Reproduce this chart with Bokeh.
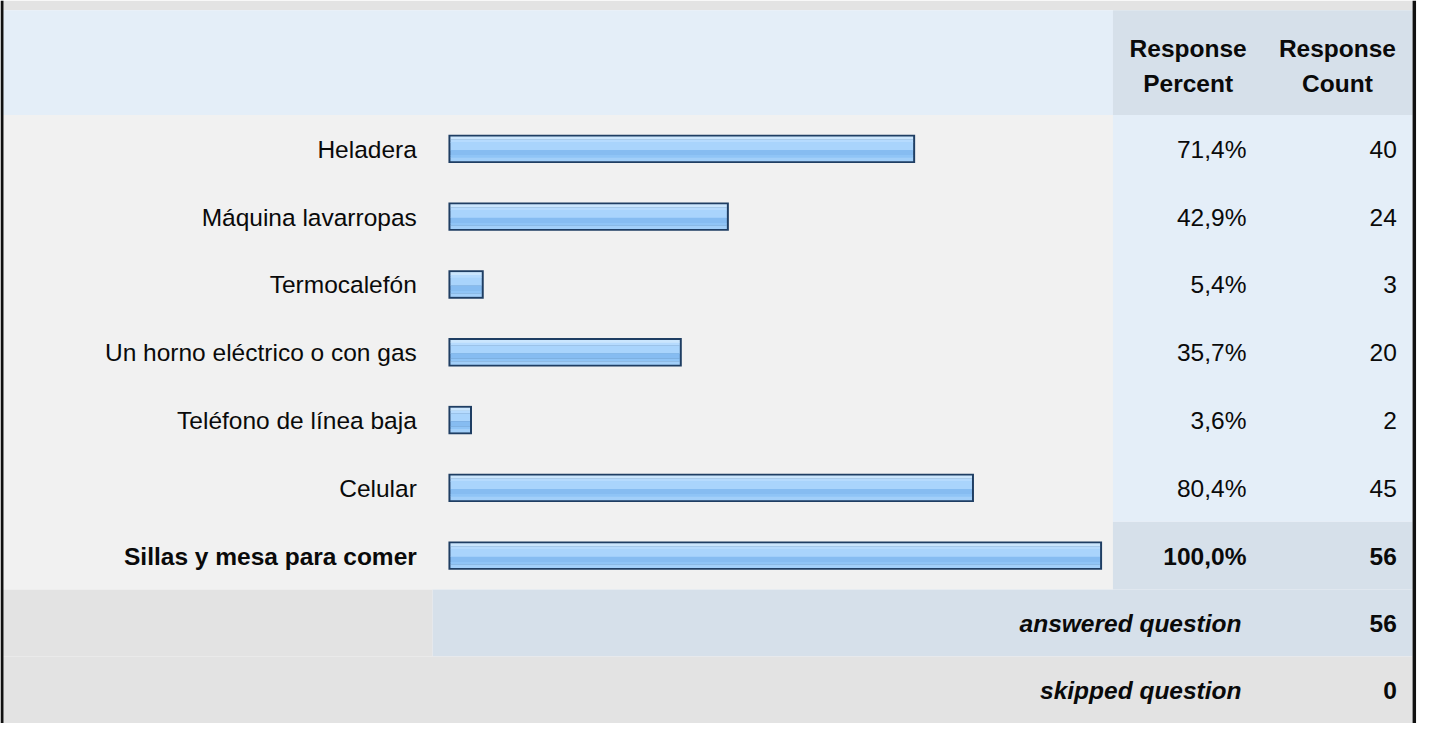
from bokeh.plotting import figure
from bokeh.models import Range1d, ColumnDataSource
from bokeh.embed import file_html
from bokeh.resources import INLINE
from bokeh.core.properties import value

# ---------------- data ----------------
categories = ["Heladera", "Máquina lavarropas", "Termocalefón",
              "Un horno eléctrico o con gas", "Teléfono de línea baja",
              "Celular", "Sillas y mesa para comer"]
percents = [71.4, 42.9, 5.4, 35.7, 3.6, 80.4, 100.0]
counts = [40, 24, 3, 20, 2, 45, 56]
header_cols = [["Response", "Percent"], ["Response", "Count"]]
answered_label = "answered question"
answered_count = 56
skipped_label = "skipped question"
skipped_count = 0

# ---------------- layout (reference pixel units) ----------------
W, H = 1435, 739
FONT = "Liberation Sans"
FS = "24.5px"
HEADER_TOP, HEADER_BOT = 10, 117
ROW_H = 69.3
BAR_X0, BAR_FULL = 453, 661
BAR_H = 29
COL_SPLIT = 1125
RIGHT_EDGE = 1428

p = figure(width=1419, height=723, x_range=Range1d(0, W), y_range=Range1d(H, 0),
           output_backend="svg", toolbar_location=None, min_border=0,
           outline_line_color=None, background_fill_color="white",
           border_fill_color="white")
p.axis.visible = False
p.grid.visible = False

n = len(categories)
row_tops = [HEADER_BOT + i * ROW_H for i in range(n)]
row_mid = [t + ROW_H / 2 for t in row_tops]
body_bot = HEADER_BOT + n * ROW_H
ans_bot = body_bot + (H - body_bot) / 2

# backgrounds
p.quad(left=0, right=RIGHT_EDGE, top=0, bottom=HEADER_TOP, fill_color="#e3e3e3", line_color=None)
p.quad(left=0, right=COL_SPLIT, top=HEADER_TOP, bottom=HEADER_BOT, fill_color="#e4eef8", line_color=None)
p.quad(left=COL_SPLIT, right=RIGHT_EDGE, top=HEADER_TOP, bottom=HEADER_BOT, fill_color="#d6e0ea", line_color=None)
p.quad(left=0, right=COL_SPLIT, top=HEADER_BOT, bottom=body_bot, fill_color="#f1f1f1", line_color=None)
p.quad(left=COL_SPLIT, right=RIGHT_EDGE, top=HEADER_BOT, bottom=row_tops[-1], fill_color="#e4eef8", line_color=None)
p.quad(left=COL_SPLIT, right=RIGHT_EDGE, top=row_tops[-1], bottom=body_bot, fill_color="#d6e0ea", line_color=None)
p.quad(left=0, right=437, top=body_bot, bottom=ans_bot, fill_color="#e3e3e3", line_color=None)
p.quad(left=437, right=RIGHT_EDGE, top=body_bot, bottom=ans_bot, fill_color="#d6e0ea", line_color=None)
p.quad(left=0, right=RIGHT_EDGE, top=ans_bot, bottom=H, fill_color="#e3e3e3", line_color=None)
# borders
p.quad(left=0, right=3, top=0, bottom=H, fill_color="#111111", line_color=None)
p.quad(left=RIGHT_EDGE, right=RIGHT_EDGE + 3.5, top=0, bottom=H, fill_color="#111111", line_color=None)

# bars
rights = [BAR_X0 + v / 100.0 * BAR_FULL for v in percents]
src = ColumnDataSource(dict(y=row_mid, right=rights))
p.hbar(y="y", left=BAR_X0, right="right", height=BAR_H, source=src,
       fill_color="#1f3e63", line_color=None)
# gradient stripes inside (fraction start, fraction end, colour)
inner = BAR_H - 4
stripes = [(0.00, 0.12, "#cbe6fd"), (0.12, 0.23, "#b6dbfe"), (0.23, 0.55, "#a9d4fc"),
           (0.55, 0.76, "#86bcf1"), (0.76, 0.87, "#8fc4f6"), (0.87, 1.00, "#a2cff9")]
for a, b, c in stripes:
    ys = [m - BAR_H / 2 + 2 + (a + b) / 2 * inner for m in row_mid]
    s = ColumnDataSource(dict(y=ys, right=[r - 2 for r in rights]))
    p.hbar(y="y", left=BAR_X0 + 2, right="right", height=(b - a) * inner + 0.3, source=s,
           fill_color=c, line_color=None)

# texts
pct_labels = [f"{v:.1f}".replace(".", ",") + "%" for v in percents]
cnt_labels = [str(c) for c in counts]
ty = [m + 0.5 for m in row_mid]
normal = dict(text_font=value(FONT), text_font_size=FS, text_color="#0a0a0a",
              text_baseline="middle", text_align="right")
p.text(x=421, y=ty[:-1], text=categories[:-1], **normal)
p.text(x=1260, y=ty[:-1], text=pct_labels[:-1], **normal)
p.text(x=1412, y=ty[:-1], text=cnt_labels[:-1], **normal)
bold = dict(normal, text_font_style="bold")
p.text(x=421, y=ty[-1:], text=categories[-1:], **bold)
p.text(x=1260, y=ty[-1:], text=pct_labels[-1:], **bold)
p.text(x=1412, y=ty[-1:], text=cnt_labels[-1:], **bold)

hdr = dict(bold, text_align="center")
for cx, lines in zip([1201, 1352], header_cols):
    p.text(x=cx, y=[49.5, 84.5], text=lines, **hdr)

bi = dict(normal, text_font_style="bold italic")
p.text(x=1255, y=[(body_bot + ans_bot) / 2 + 0.5], text=[answered_label], **bi)
p.text(x=1412, y=[(body_bot + ans_bot) / 2 + 0.5], text=[str(answered_count)], **bold)
p.text(x=1255, y=[(ans_bot + H) / 2 + 0.5], text=[skipped_label], **bi)
p.text(x=1412, y=[(ans_bot + H) / 2 + 0.5], text=[str(skipped_count)], **bold)

open("out.html", "w").write(file_html(p, INLINE))
